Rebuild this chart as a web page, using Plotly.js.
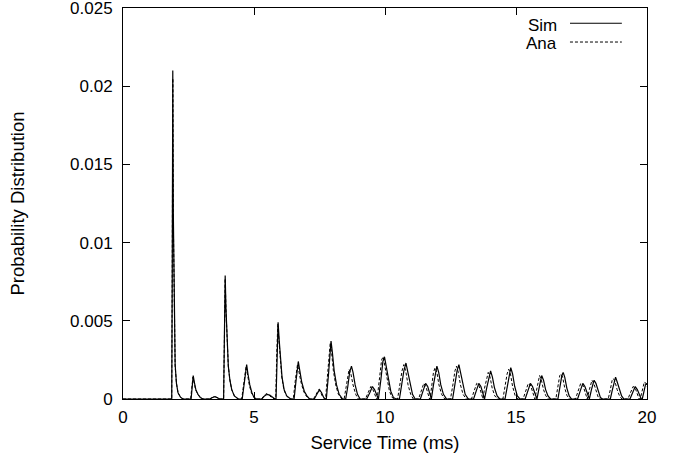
<!DOCTYPE html>
<html>
<head>
<meta charset="utf-8">
<script src="https://cdn.plot.ly/plotly-3.0.1.min.js"></script>
<style>html,body{margin:0;padding:0;background:#fff;}#chart{width:678px;height:461px;}</style>
</head>
<body>
<div id="chart"></div>
<script>
// Service time (ms), probability — simulation
const simPts = [
  [0,0],[1.86,0],[1.88,0.008],[1.9,0.021],[1.92,0.012],[1.95,0.005],[1.99,0.0022],[2.04,0.001],[2.1,0.0004],[2.2,0.0001],[2.3,0],
  [2.6,0],[2.64,0.0007],[2.68,0.0015],[2.72,0.0011],[2.78,0.0006],[2.86,0.0003],[2.95,0.0001],[3.05,0],
  [3.3,0],[3.42,0.0001],[3.5,0.00015],[3.58,0.0001],[3.7,0],
  [3.84,0],[3.87,0.004],[3.9,0.0079],[3.93,0.0058],[3.97,0.0035],[4.02,0.0021],[4.08,0.0012],[4.15,0.0006],[4.25,0.0002],[4.4,0],
  [4.55,0],[4.62,0.0009],[4.68,0.0019],[4.72,0.0022],[4.77,0.0016],[4.84,0.0009],[4.92,0.0004],[5.0,0.0001],[5.1,0],
  [5.3,0],[5.4,0.0002],[5.5,0.0003],[5.6,0.00025],[5.7,0.0001],[5.8,0],
  [5.84,0],[5.88,0.003],[5.92,0.0049],[5.96,0.0038],[6.01,0.0024],[6.07,0.0014],[6.15,0.0006],[6.25,0.0002],[6.4,0],
  [6.53,0],[6.6,0.0011],[6.66,0.0021],[6.69,0.0024],[6.74,0.0019],[6.82,0.0011],[6.92,0.0005],[7.02,0.0002],[7.12,0],
  [7.3,0],[7.4,0.0003],[7.5,0.0006],[7.58,0.0004],[7.66,0.0001],[7.72,0],
  [7.76,0],[7.84,0.0015],[7.9,0.0031],[7.94,0.0037],[7.99,0.003],[8.06,0.0018],[8.15,0.0009],[8.25,0.0003],[8.38,0],
  [8.5,0],[8.58,0.0008],[8.65,0.0017],[8.72,0.0021],[8.78,0.0017],[8.86,0.0009],[8.95,0.0003],[9.05,0],
  [9.3,0],[9.42,0.0004],[9.52,0.0008],[9.6,0.0006],[9.68,0.0002],[9.73,0],
  [9.75,0],[9.84,0.0012],[9.92,0.0024],[9.98,0.0027],[10.04,0.0022],[10.12,0.0013],[10.22,0.0005],[10.32,0.0001],[10.42,0],
  [10.55,0],[10.64,0.0009],[10.72,0.0018],[10.8,0.0023],[10.86,0.0018],[10.95,0.0009],[11.05,0.0003],[11.15,0],
  [11.35,0],[11.45,0.0005],[11.55,0.001],[11.63,0.0008],[11.7,0.0003],[11.75,0],
  [11.77,0],[11.85,0.0009],[11.92,0.0017],[11.98,0.0021],[12.05,0.0017],[12.13,0.0009],[12.23,0.0003],[12.35,0],
  [12.58,0],[12.67,0.0009],[12.75,0.0018],[12.82,0.0022],[12.88,0.0017],[12.96,0.0009],[13.06,0.0003],[13.18,0],
  [13.38,0],[13.48,0.0005],[13.58,0.001],[13.66,0.0008],[13.74,0.0003],[13.78,0],
  [13.8,0],[13.88,0.0007],[13.96,0.0014],[14.03,0.0018],[14.1,0.0014],[14.18,0.0007],[14.28,0.0002],[14.38,0],
  [14.58,0],[14.66,0.0008],[14.74,0.0016],[14.8,0.002],[14.87,0.0016],[14.95,0.0008],[15.05,0.0002],[15.15,0],
  [15.35,0],[15.45,0.0005],[15.55,0.001],[15.63,0.0008],[15.72,0.0003],[15.78,0],
  [15.8,0],[15.88,0.0007],[15.94,0.0013],[15.98,0.0015],[16.05,0.0012],[16.13,0.0006],[16.22,0.0002],[16.32,0],
  [16.6,0],[16.68,0.0008],[16.75,0.0015],[16.8,0.0017],[16.86,0.0014],[16.94,0.0007],[17.03,0.0002],[17.12,0],
  [17.35,0],[17.45,0.0005],[17.55,0.001],[17.63,0.0008],[17.72,0.0003],[17.78,0],
  [17.8,0],[17.88,0.0006],[17.94,0.001],[17.98,0.0012],[18.05,0.001],[18.13,0.0005],[18.22,0.0001],[18.3,0],
  [18.6,0],[18.68,0.0006],[18.75,0.0012],[18.8,0.0014],[18.86,0.0011],[18.94,0.0006],[19.03,0.0002],[19.12,0],
  [19.35,0],[19.45,0.0004],[19.55,0.0008],[19.63,0.0006],[19.72,0.0002],[19.78,0],
  [19.82,0],[19.88,0.0005],[19.94,0.0009],[19.98,0.001],[20,0.0009]
];

// Service time (ms), probability — analytical model
const anaPts = [
  [0,0],[1.86,0],[1.88,0.009],[1.9,0.0205],[1.92,0.0115],[1.95,0.0048],[1.99,0.0021],[2.04,0.001],[2.1,0.0004],[2.2,0.0001],[2.3,0],
  [2.58,0],[2.63,0.0007],[2.67,0.0014],[2.71,0.0011],[2.77,0.0006],[2.85,0.0003],[2.95,0.0001],[3.05,0],
  [3.3,0],[3.42,0.0001],[3.5,0.00018],[3.58,0.0001],[3.7,0],
  [3.84,0],[3.87,0.0042],[3.9,0.0077],[3.93,0.0057],[3.97,0.0035],[4.02,0.0021],[4.08,0.0012],[4.15,0.0006],[4.25,0.0002],[4.4,0],
  [4.53,0],[4.6,0.0009],[4.66,0.0019],[4.7,0.0021],[4.75,0.0016],[4.82,0.0009],[4.9,0.0004],[5.0,0.0001],[5.1,0],
  [5.28,0],[5.38,0.0002],[5.47,0.00035],[5.57,0.00025],[5.67,0.0001],[5.78,0],
  [5.83,0],[5.87,0.003],[5.91,0.0048],[5.95,0.0038],[6.0,0.0024],[6.06,0.0014],[6.14,0.0006],[6.24,0.0002],[6.38,0],
  [6.5,0],[6.57,0.0011],[6.63,0.002],[6.66,0.0022],[6.71,0.0018],[6.79,0.0011],[6.89,0.0005],[6.99,0.0002],[7.1,0],
  [7.27,0],[7.37,0.0003],[7.47,0.0006],[7.55,0.0004],[7.63,0.0001],[7.7,0],
  [7.73,0],[7.81,0.0016],[7.87,0.0031],[7.91,0.0036],[7.96,0.003],[8.03,0.0018],[8.12,0.0009],[8.22,0.0003],[8.35,0],
  [8.44,0],[8.52,0.0008],[8.58,0.0016],[8.63,0.0019],[8.7,0.0016],[8.78,0.0009],[8.88,0.0003],[8.98,0],
  [9.25,0],[9.36,0.0004],[9.46,0.0008],[9.54,0.0006],[9.62,0.0002],[9.68,0],
  [9.7,0],[9.79,0.0013],[9.87,0.0025],[9.93,0.0027],[9.99,0.0022],[10.07,0.0013],[10.17,0.0005],[10.27,0.0001],[10.37,0],
  [10.48,0],[10.57,0.0009],[10.65,0.0018],[10.72,0.0022],[10.79,0.0018],[10.88,0.0009],[10.98,0.0003],[11.08,0],
  [11.28,0],[11.38,0.0005],[11.48,0.001],[11.56,0.0008],[11.64,0.0003],[11.7,0],
  [11.72,0],[11.78,0.0009],[11.85,0.0017],[11.91,0.002],[11.98,0.0017],[12.06,0.0009],[12.16,0.0003],[12.28,0],
  [12.5,0],[12.59,0.0009],[12.67,0.0018],[12.73,0.0021],[12.8,0.0017],[12.88,0.0009],[12.98,0.0003],[13.1,0],
  [13.3,0],[13.4,0.0005],[13.5,0.001],[13.58,0.0009],[13.66,0.0004],[13.72,0],
  [13.74,0],[13.8,0.0007],[13.88,0.0014],[13.94,0.0017],[14.01,0.0014],[14.09,0.0007],[14.19,0.0002],[14.3,0],
  [14.5,0],[14.58,0.0008],[14.66,0.0016],[14.72,0.0019],[14.79,0.0016],[14.87,0.0008],[14.97,0.0002],[15.07,0],
  [15.27,0],[15.37,0.0005],[15.47,0.001],[15.55,0.0009],[15.64,0.0004],[15.7,0],
  [15.72,0],[15.8,0.0007],[15.86,0.0013],[15.9,0.0015],[15.97,0.0012],[16.05,0.0006],[16.14,0.0002],[16.24,0],
  [16.52,0],[16.6,0.0008],[16.67,0.0015],[16.72,0.0016],[16.78,0.0014],[16.86,0.0007],[16.95,0.0002],[17.04,0],
  [17.27,0],[17.37,0.0005],[17.47,0.001],[17.55,0.0009],[17.64,0.0004],[17.7,0],
  [17.72,0],[17.8,0.0006],[17.86,0.0011],[17.9,0.0012],[17.97,0.001],[18.05,0.0005],[18.14,0.0001],[18.22,0],
  [18.52,0],[18.6,0.0006],[18.67,0.0012],[18.72,0.0013],[18.78,0.0011],[18.86,0.0006],[18.95,0.0002],[19.04,0],
  [19.27,0],[19.37,0.0004],[19.47,0.0008],[19.55,0.0007],[19.64,0.0003],[19.7,0],
  [19.74,0],[19.8,0.0005],[19.86,0.001],[19.9,0.0011],[19.96,0.001],[20,0.0008]
];

const xTicks = [0, 5, 10, 15, 20];
const yTicks = [0, 0.005, 0.01, 0.015, 0.02, 0.025];
const yTickText = ['0', '0.005', '0.01', '0.015', '0.02', '0.025'];
const seriesNames = ['Sim', 'Ana'];

const FONT = 'Liberation Sans, Arial, Helvetica, sans-serif';

const traces = [
  {
    x: anaPts.map(p => p[0]), y: anaPts.map(p => p[1]),
    type: 'scatter', mode: 'lines', name: seriesNames[1],
    line: {color: '#000', width: 1, dash: '3px,2px'}, showlegend: false, cliponaxis: true
  },
  {
    x: simPts.map(p => p[0]), y: simPts.map(p => p[1]),
    type: 'scatter', mode: 'lines', name: seriesNames[0],
    line: {color: '#000', width: 1.2}, showlegend: false, cliponaxis: true
  }
];

const axisCommon = {
  showgrid: false, zeroline: false, showline: true, mirror: 'ticks',
  linecolor: '#000', linewidth: 1, ticks: 'inside', ticklen: 7, tickwidth: 1,
  tickcolor: '#000', tickfont: {family: FONT, size: 17, color: '#000'},
  ticklabeloverflow: 'allow'
};

const layout = {
  width: 678, height: 461,
  margin: {l: 123, r: 31, t: 8, b: 62},
  paper_bgcolor: '#fff', plot_bgcolor: '#fff',
  font: {family: FONT, size: 17, color: '#000'},
  xaxis: Object.assign({}, axisCommon, {
    range: [0, 20], tickvals: xTicks, ticktext: xTicks.map(String),
    ticklabelstandoff: 3,
    title: {text: 'Service Time (ms)', font: {family: FONT, size: 18.5}, standoff: 9}
  }),
  yaxis: Object.assign({}, axisCommon, {
    range: [0, 0.025], tickvals: yTicks, ticktext: yTickText,
    ticklabelstandoff: 6,
    title: {text: 'Probability Distribution', font: {family: FONT, size: 18.5}, standoff: 40}
  }),
  annotations: [
    {xref: 'paper', yref: 'paper', x: 0.833, y: 0.955, xanchor: 'right', yanchor: 'middle',
     text: seriesNames[0], showarrow: false, font: {family: FONT, size: 17, color: '#000'}},
    {xref: 'paper', yref: 'paper', x: 0.833, y: 0.909, xanchor: 'right', yanchor: 'middle',
     text: seriesNames[1], showarrow: false, font: {family: FONT, size: 17, color: '#000'}}
  ],
  shapes: [
    {type: 'line', xref: 'paper', yref: 'paper', x0: 0.853, x1: 0.952, y0: 0.961, y1: 0.961,
     line: {color: '#000', width: 1.2}},
    {type: 'line', xref: 'paper', yref: 'paper', x0: 0.853, x1: 0.952, y0: 0.913, y1: 0.913,
     line: {color: '#000', width: 1, dash: '3px,2px'}}
  ]
};

Plotly.newPlot('chart', traces, layout, {displayModeBar: false, staticPlot: true});
</script>
</body>
</html>
